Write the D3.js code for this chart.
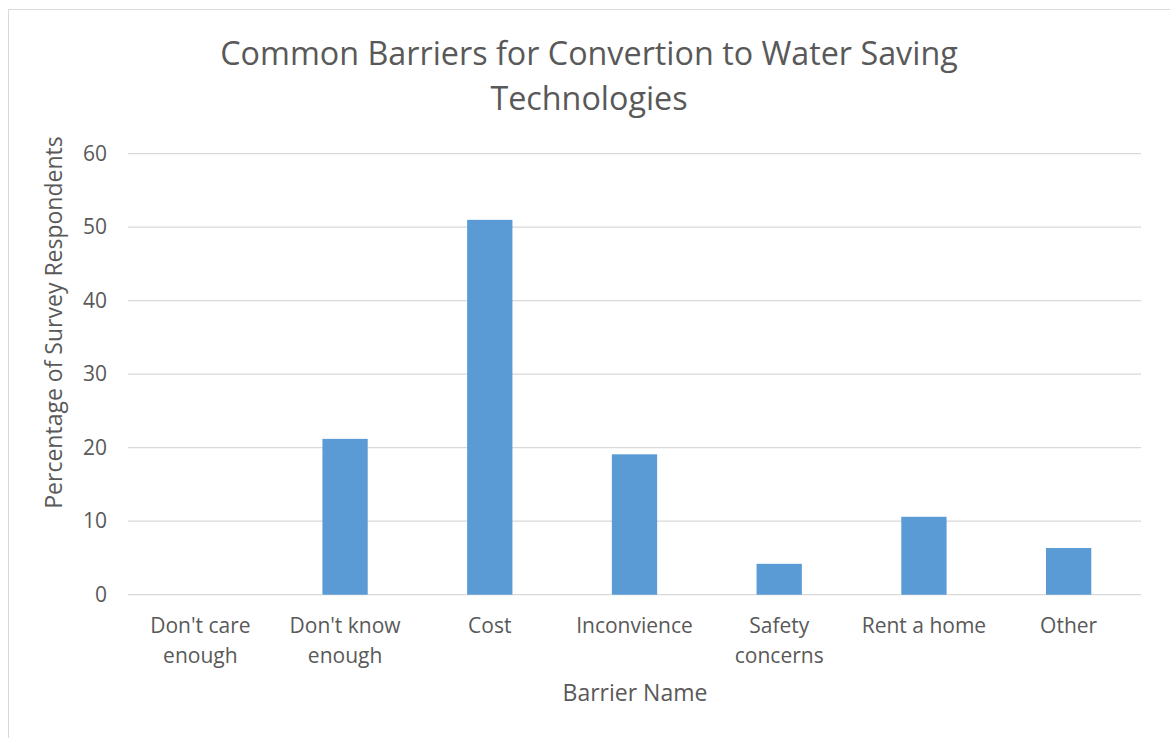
<!DOCTYPE html>
<html>
<head>
<meta charset="utf-8">
<script src="https://cdn.jsdelivr.net/npm/d3@7"></script>
<style>
  html, body { margin: 0; padding: 0; background: #fff; }
  svg { display: block; }
  text { font-family: "Open Sans", sans-serif; fill: #595959; }
</style>
</head>
<body>
<svg id="chart" width="1170" height="738"></svg>
<script>
// Survey results: share of respondents citing each barrier
const categories = ["Don't care enough", "Don't know enough", "Cost", "Inconvience", "Safety concerns", "Rent a home", "Other"];
const values = [0, 21.2, 51.0, 19.1, 4.2, 10.6, 6.35];
const yTicks = [0, 10, 20, 30, 40, 50, 60];
const titleLines = ["Common Barriers for Convertion to Water Saving", "Technologies"];
const xTitle = "Barrier Name";
const yTitle = "Percentage of Survey Respondents";

const svg = d3.select("#chart");

// outer frame
svg.append("rect")
  .attr("x", 8.5).attr("y", 9.5)
  .attr("width", 1180).attr("height", 740)
  .attr("fill", "none").attr("stroke", "#d9d9d9").attr("stroke-width", 1);

const plot = { left: 128, right: 1141, top: 153.7, bottom: 594.7 };

const x = d3.scaleBand()
  .domain(categories)
  .range([plot.left, plot.right])
  .paddingInner(0.687)
  .paddingOuter(0.3435);

const y = d3.scaleLinear()
  .domain([0, 60])
  .range([plot.bottom, plot.top]);

// horizontal gridlines
svg.append("g")
  .selectAll("line")
  .data(yTicks)
  .join("line")
  .attr("x1", plot.left).attr("x2", plot.right)
  .attr("y1", d => y(d)).attr("y2", d => y(d))
  .attr("stroke", "#d9d9d9").attr("stroke-width", 1.3);

// y axis tick labels
const yAxis = d3.axisLeft(y).tickValues(yTicks).tickSize(0).tickPadding(0);
const gy = svg.append("g")
  .attr("transform", `translate(${plot.left - 21},0)`)
  .call(yAxis);
gy.select(".domain").remove();
gy.selectAll("text")
  .attr("font-size", 21)
  .attr("fill", "#595959")
  .attr("font-family", "'Open Sans', sans-serif");

// bars
svg.append("g")
  .selectAll("rect")
  .data(categories.map((c, i) => ({ c, v: values[i] })))
  .join("rect")
  .attr("x", d => x(d.c))
  .attr("width", x.bandwidth())
  .attr("y", d => y(d.v))
  .attr("height", d => y(0) - y(d.v))
  .attr("fill", "#5b9bd5");

// x axis category labels, wrapped to the band width
const xAxis = d3.axisBottom(x).tickSize(0).tickPadding(0);
const gx = svg.append("g")
  .attr("transform", `translate(0,${plot.bottom})`)
  .call(xAxis);
gx.select(".domain").remove();
gx.selectAll("text").each(function (d) {
  const t = d3.select(this);
  t.text(null)
    .attr("font-size", 21)
    .attr("fill", "#595959")
    .attr("font-family", "'Open Sans', sans-serif")
    .attr("y", 0)
    .attr("dy", null);
  const words = d.split(" ");
  const lines = [];
  let cur = [];
  words.forEach(w => {
    cur.push(w);
    const probe = cur.join(" ");
    if (probe.length > 11 && cur.length > 1) {
      cur.pop();
      lines.push(cur.join(" "));
      cur = [w];
    }
  });
  lines.push(cur.join(" "));
  lines.forEach((ln, i) => {
    t.append("tspan").attr("x", 0).attr("y", 38 + i * 30).text(ln);
  });
});

// chart title
svg.append("text")
  .attr("text-anchor", "middle")
  .attr("font-size", 32.3)
  .selectAll("tspan")
  .data(titleLines)
  .join("tspan")
  .attr("x", 589)
  .attr("y", (d, i) => 65 + i * 45)
  .text(d => d);

// axis titles
svg.append("text")
  .attr("x", 635)
  .attr("y", 701)
  .attr("text-anchor", "middle")
  .attr("font-size", 23)
  .text(xTitle);

svg.append("text")
  .attr("transform", "translate(62,322.5) rotate(-90)")
  .attr("text-anchor", "middle")
  .attr("font-size", 23)
  .text(yTitle);
</script>
</body>
</html>
